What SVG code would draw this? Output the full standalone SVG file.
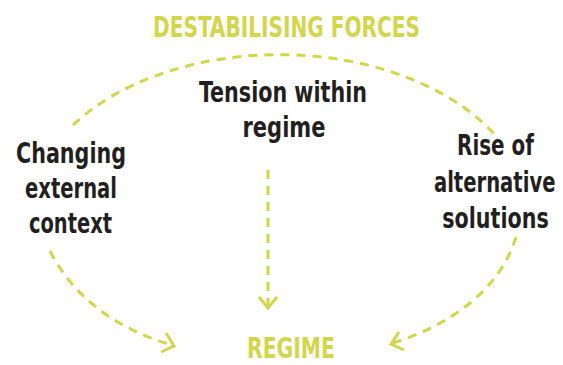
<svg xmlns="http://www.w3.org/2000/svg" width="563" height="365" viewBox="0 0 563 365">
  <style>
    text { font-family: "Liberation Sans Narrow", "DejaVu Sans Condensed", "Roboto", sans-serif; font-weight: bold; font-size: 28px; text-anchor: middle; }
    .title { fill: #d2d64b; }
    .label { fill: #231f20; }
    .flow { fill: none; stroke: #d2d64b; stroke-width: 3; stroke-dasharray: 9 7; }
    .head { fill: none; stroke: #d2d64b; stroke-width: 3; stroke-linejoin: miter; }
  </style>
  <rect width="563" height="365" fill="#ffffff"/>

  <g id="connectors">
    <!-- upper arc of destabilising forces -->
    <path class="flow" d="M73,125 A250,162 0 0 1 496,136"/>
    <!-- left branch into regime -->
    <path class="flow" d="M50,251 C75,300 120,330 172,345"/>
    <polyline class="head" points="166,333 174,346 161,352"/>
    <!-- central branch into regime -->
    <path class="flow" d="M268,170 L268,306"/>
    <polyline class="head" points="259,297 268,308 277,297"/>
    <!-- right branch into regime -->
    <path class="flow" d="M516,237 C500,290 450,325 393,343"/>
    <polyline class="head" points="399,332 391,344 404,350"/>
  </g>

  <g id="destabilising-forces">
    <text class="title" x="286.5" y="37" textLength="267" lengthAdjust="spacingAndGlyphs">DESTABILISING FORCES</text>
  </g>

  <g id="tension-within-regime">
    <text class="label" x="283" y="102" textLength="168" lengthAdjust="spacingAndGlyphs">Tension within</text>
    <text class="label" x="284" y="137" textLength="83" lengthAdjust="spacingAndGlyphs">regime</text>
  </g>

  <g id="changing-external-context">
    <text class="label" x="71" y="163" textLength="110" lengthAdjust="spacingAndGlyphs">Changing</text>
    <text class="label" x="71" y="198" textLength="92" lengthAdjust="spacingAndGlyphs">external</text>
    <text class="label" x="70.5" y="233" textLength="83" lengthAdjust="spacingAndGlyphs">context</text>
  </g>

  <!-- narrow column at the right edge: condensed with a horizontal scale -->
  <g id="rise-of-alternative-solutions" transform="translate(495.5 0) scale(0.8 1)">
    <text class="label" x="0" y="155" textLength="96" lengthAdjust="spacingAndGlyphs">Rise of</text>
    <text class="label" x="-1" y="192" textLength="152" lengthAdjust="spacingAndGlyphs">alternative</text>
    <text class="label" x="0" y="228" textLength="133" lengthAdjust="spacingAndGlyphs">solutions</text>
  </g>

  <g id="regime">
    <text class="title" x="291" y="358" textLength="88" lengthAdjust="spacingAndGlyphs">REGIME</text>
  </g>
</svg>
